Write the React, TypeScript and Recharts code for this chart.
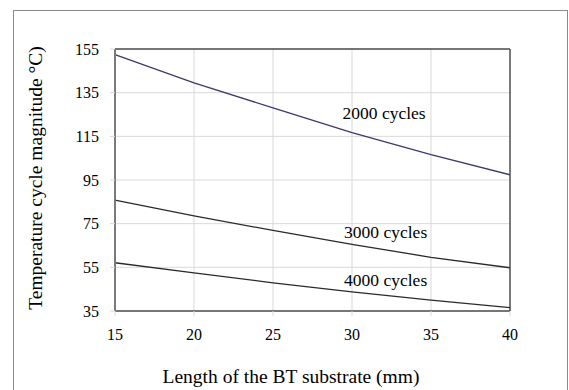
import React from "react";
import { LineChart, Line, XAxis, YAxis, CartesianGrid, ReferenceLine, ReferenceDot, Label } from "recharts";

const lengths = [15, 20, 25, 30, 35, 40];
const cycles2000 = [152.4, 139.5, 128.0, 116.7, 106.6, 97.4];
const cycles3000 = [85.8, 78.6, 71.9, 65.5, 59.6, 54.8];
const cycles4000 = [57.1, 52.5, 47.9, 43.8, 40.0, 36.5];

const xTicks = [15, 20, 25, 30, 35, 40];
const yTicks = [35, 55, 75, 95, 115, 135, 155];

const curveLabels = [
  { text: "2000 cycles", x: 29.4, y: 125.8 },
  { text: "3000 cycles", x: 29.5, y: 71.3 },
  { text: "4000 cycles", x: 29.5, y: 49.2 },
];

const data = lengths.map((len, i) => ({
  len,
  c2000: cycles2000[i],
  c3000: cycles3000[i],
  c4000: cycles4000[i],
}));

const FONT = "'Liberation Serif', 'Times New Roman', serif";

export default function App() {
  return (
    <div style={{ position: "absolute", left: 0, top: 0, width: 569, height: 390, overflow: "hidden", background: "#fff" }}>
      <div
        style={{
          position: "absolute",
          left: 13,
          top: 10,
          width: 555,
          height: 400,
          boxSizing: "border-box",
          border: "1px solid #8a8a8a",
        }}
      />
      <LineChart
        width={569}
        height={390}
        data={data}
        margin={{ top: 49, right: 59, bottom: 0, left: 0 }}
        style={{ fontFamily: FONT }}
      >
        <CartesianGrid stroke="#d9d9d9" strokeWidth={1} />
        <XAxis
          dataKey="len"
          type="number"
          domain={[15, 40]}
          ticks={xTicks}
          height={79}
          axisLine={{ stroke: "#000" }}
          tickLine={{ stroke: "#d9d9d9" }}
          tickSize={5}
          tickMargin={13}
          tick={{ fill: "#000", fontSize: 16, fontFamily: FONT }}
        >
          <Label
            content={() => (
              <text x={291} y={383} textAnchor="middle" fontSize={19.5} fontFamily={FONT} fill="#000">
                Length of the BT substrate (mm)
              </text>
            )}
          />
        </XAxis>
        <YAxis
          type="number"
          domain={[35, 155]}
          ticks={yTicks}
          width={115}
          axisLine={{ stroke: "#7a7a7a", strokeWidth: 2 }}
          tickLine={{ stroke: "#d9d9d9" }}
          tickSize={5}
          tickMargin={11}
          tick={{ fill: "#000", fontSize: 16, fontFamily: FONT }}
        >
          <Label
            content={() => (
              <text
                x={42}
                y={178}
                transform="rotate(-90 42 178)"
                textAnchor="middle"
                fontSize={19.5}
                fontFamily={FONT}
                fill="#000"
              >
                Temperature cycle magnitude °C)
              </text>
            )}
          />
        </YAxis>
        <ReferenceLine y={155} stroke="#000" strokeWidth={1} />
        <ReferenceLine x={40} stroke="#555" strokeWidth={1.5} />
        <Line dataKey="c2000" stroke="#3a3a6e" strokeWidth={1.3} dot={false} isAnimationActive={false} />
        <Line dataKey="c3000" stroke="#2a2a2a" strokeWidth={1.3} dot={false} isAnimationActive={false} />
        <Line dataKey="c4000" stroke="#2a2a2a" strokeWidth={1.3} dot={false} isAnimationActive={false} />
        {curveLabels.map((c) => (
          <ReferenceDot
            key={c.text}
            x={c.x}
            y={c.y}
            r={0}
            stroke="none"
            fill="none"
            label={(props: any) => {
              const vb = props.viewBox || {};
              const cx = vb.x + (vb.width || 0) / 2;
              const cy = vb.y + (vb.height || 0) / 2;
              return (
                <text x={cx} y={cy} dy={6} textAnchor="start" fontSize={17.5} fontFamily={FONT} fill="#000">
                  {c.text}
                </text>
              );
            }}
          />
        ))}
      </LineChart>
    </div>
  );
}
